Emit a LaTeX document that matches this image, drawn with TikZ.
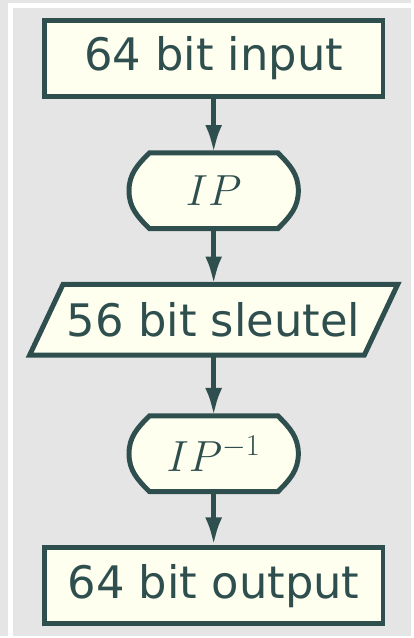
\documentclass[tikz,border=0pt]{standalone}
\usepackage{fontspec}
\setmainfont{DejaVu Sans}
\usetikzlibrary{arrows.meta,positioning,backgrounds}
\definecolor{slate}{HTML}{2F4F4F}
\definecolor{ivorybg}{HTML}{FFFFF0}
\definecolor{panel}{HTML}{E5E5E5}

\begin{document}
\begin{tikzpicture}[>={Latex[length=0.56cm,width=0.34cm]}, font=\fontsize{25.6}{30}\selectfont, text=slate]
        \tikzset{block/.style={draw=slate, fill=ivorybg, line width=0.1cm, minimum width=6.8cm, minimum height=1.52cm, inner sep=0pt}}
        \tikzset{plain/.style={minimum height=1.52cm, inner sep=0pt, outer sep=0pt}}
        \tikzset{outline/.style={draw=slate, fill=ivorybg, line width=0.1cm}}
        \tikzset{flow/.style={->, draw=slate, line width=0.1cm}}

        % panel behind the chart
        \begin{scope}[on background layer]
            \fill[panel] (0,0) rectangle (8.26,-12.76);
            \draw[white, line width=0.1cm] (0.21,-12.76) -- (0.21,-0.11) -- (8.26,-0.11);
        \end{scope}
        \useasboundingbox (0,0) rectangle (8.26,-12.76);

        \node[block] (in) at (4.29,-1.17) {64 bit input};
        \node[plain, minimum width=3.4cm] (ip) at (4.29,-3.83) {$IP$};
        \node[plain, minimum width=6.72cm, minimum height=1.42cm] (key) at (4.29,-6.42) {56 bit sleutel};
        \node[plain, minimum width=3.4cm] (ipinv) at (4.29,-9.11) {$IP^{-1}$};
        \node[block] (out) at (4.29,-11.76) {64 bit output};

        % outlines drawn behind the texts
        \begin{scope}[on background layer]
            \foreach \n in {ip,ipinv}
                \draw[outline]
                    ([xshift=0.41cm]\n.north west) -- ([xshift=-0.41cm]\n.north east)
                    to[out=-45,in=90] (\n.east) to[out=-90,in=45] ([xshift=-0.41cm]\n.south east)
                    -- ([xshift=0.41cm]\n.south west) to[out=135,in=-90] (\n.west)
                    to[out=90,in=-135] ([xshift=0.41cm]\n.north west) -- cycle;
            \draw[outline] ([xshift=0.335cm]key.north west) -- ([xshift=0.335cm]key.north east)
                -- ([xshift=-0.335cm]key.south east) -- ([xshift=-0.335cm]key.south west) -- cycle;
        \end{scope}

        \draw[flow] (in) -- (ip);
        \draw[flow] (ip) -- (key);
        \draw[flow] (key) -- (ipinv);
        \draw[flow] (ipinv) -- (out);
    \end{tikzpicture}
\end{document}
